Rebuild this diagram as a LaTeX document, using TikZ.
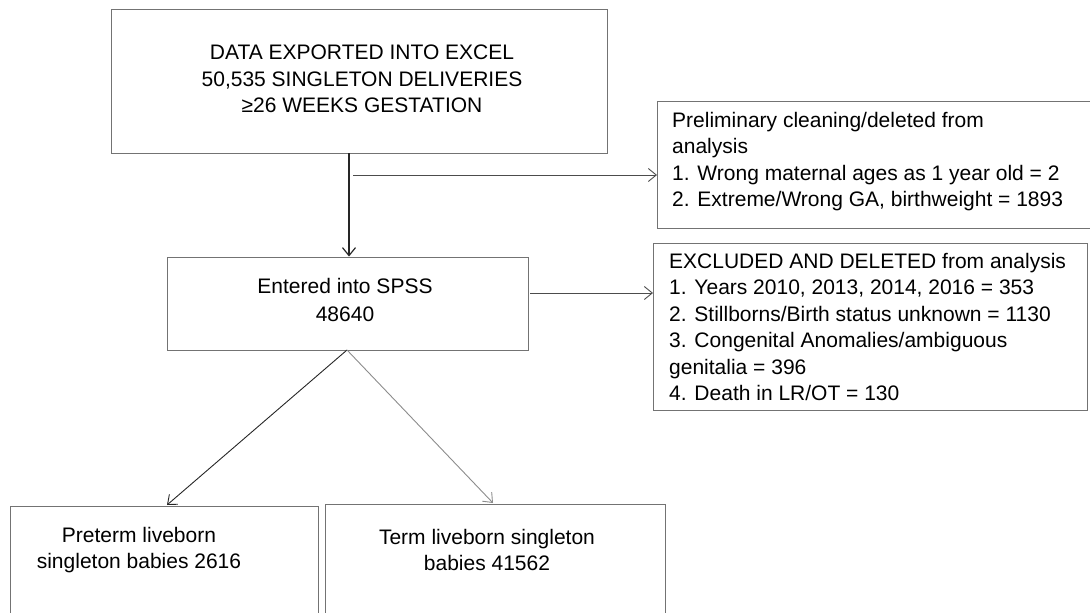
\documentclass[tikz,border=0pt]{standalone}
\usepackage{fontspec}
\setmainfont{Liberation Sans}
\usetikzlibrary{arrows.meta}
\begin{document}
\begin{tikzpicture}[x=1pt, y=-1pt,
    box/.style={draw=black!55, line width=0.9pt, inner sep=0pt},
    txt/.style={inner sep=0pt, font=\fontsize{21}{26.5}\selectfont},
    arr/.style={-{Straight Barb[length=8pt,width=13pt]}, line width=0.9pt}]
        \def \boxgray {black!70}

        \clip (0,0) rectangle (1090,613);

        \node[box, minimum width=496, minimum height=144] (excel) at (359,81) {};
        \node[txt, align=center] (exceltxt) at (362,79) {DATA EXPORTED INTO EXCEL\\50,535 SINGLETON DELIVERIES\\≥26 WEEKS GESTATION};

        \node[box, minimum width=361, minimum height=93] (spss) at (347.5,303.5) {};
        \node[txt, align=center, font=\fontsize{21}{28}\selectfont] (spsstxt) at (345,300) {Entered into SPSS\\48640};

        \node[box, minimum width=460, minimum height=127, anchor=north west] (prelim) at (657,101) {};
        \node[txt, align=left, anchor=north west] (prelimtxt) at (672,112) {Preliminary cleaning/deleted from\\analysis\\1. Wrong maternal ages as 1 year old = 2\\2. Extreme/Wrong GA, birthweight = 1893};

        \node[box, minimum width=434, minimum height=167, anchor=north west] (excl) at (653,243) {};
        \node[txt, align=left, anchor=north west] (excltxt) at (669,253) {EXCLUDED AND DELETED from analysis\\1. Years 2010, 2013, 2014, 2016 = 353\\2. Stillborns/Birth status unknown = 1130\\3. Congenital Anomalies/ambiguous\\genitalia = 396\\4. Death in LR/OT = 130};

        \node[box, minimum width=308, minimum height=140, anchor=north west] (preterm) at (10,506) {};
        \node[txt, align=center] (pretermtxt) at (139,550) {Preterm liveborn\\singleton babies 2616};

        \node[box, minimum width=340, minimum height=140, anchor=north west] (term) at (325,504) {};
        \node[txt, align=center] (termtxt) at (487,550) {Term liveborn singleton\\babies 41562};

        \coordinate (down) at (349,153);
        \coordinate (side) at (353,175);
        \coordinate (fork) at (347,350);

        \draw[arr, line width=1.2pt, black!85] (down) -- (down |- spss.north);
        \draw[arr, \boxgray] (side) -- (side -| prelim.west);
        \draw[arr, \boxgray] (spss.east |- 0,293) ++(2,0) -- (excl.west |- 0,293);
        \draw[arr, black!85] (fork) -- (167,505);
        \draw[arr, black!45] (fork) -- (493,503);
\end{tikzpicture}
\end{document}
